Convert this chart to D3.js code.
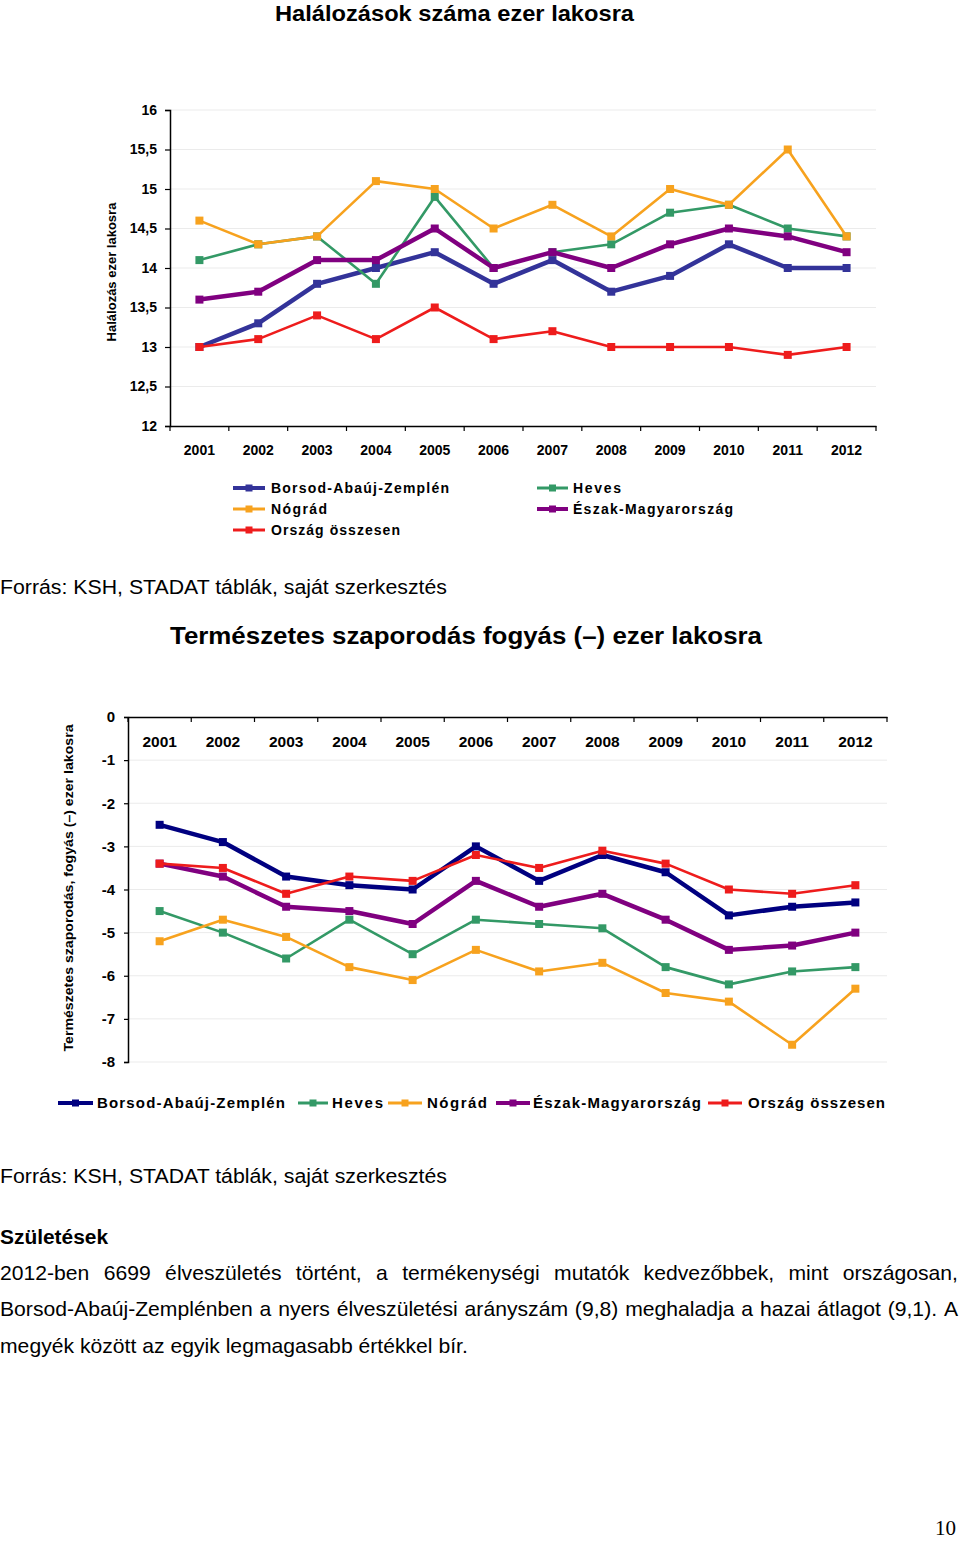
<!DOCTYPE html>
<html><head><meta charset="utf-8">
<script src="https://cdn.jsdelivr.net/npm/d3@7"></script>
<style>
body{margin:0;background:#fff}
svg{display:block}
text{font-family:'Liberation Sans',Arial,Helvetica,sans-serif;fill:#000}
</style>
</head><body>
<svg id="c" width="960" height="1542"></svg>
<script>
// ---------- DATA ----------
const years = ["2001","2002","2003","2004","2005","2006","2007","2008","2009","2010","2011","2012"];
const seriesNames = ["Borsod-Abaúj-Zemplén","Heves","Nógrád","Észak-Magyarország","Ország összesen"];

// Halálozások száma ezer lakosra
const deathBorsod = [13.0,13.3,13.8,14.0,14.2,13.8,14.1,13.7,13.9,14.3,14.0,14.0];
const deathHeves  = [14.1,14.3,14.4,13.8,14.9,14.0,14.2,14.3,14.7,14.8,14.5,14.4];
const deathNograd = [14.6,14.3,14.4,15.1,15.0,14.5,14.8,14.4,15.0,14.8,15.5,14.4];
const deathEszak  = [13.6,13.7,14.1,14.1,14.5,14.0,14.2,14.0,14.3,14.5,14.4,14.2];
const deathOrszag = [13.0,13.1,13.4,13.1,13.5,13.1,13.2,13.0,13.0,13.0,12.9,13.0];
const deathTicks = [12,12.5,13,13.5,14,14.5,15,15.5,16];

// Természetes szaporodás, fogyás (–) ezer lakosra
const natBorsod = [-2.5,-2.9,-3.7,-3.9,-4.0,-3.0,-3.8,-3.2,-3.6,-4.6,-4.4,-4.3];
const natHeves  = [-4.5,-5.0,-5.6,-4.7,-5.5,-4.7,-4.8,-4.9,-5.8,-6.2,-5.9,-5.8];
const natNograd = [-5.2,-4.7,-5.1,-5.8,-6.1,-5.4,-5.9,-5.7,-6.4,-6.6,-7.6,-6.3];
const natEszak  = [-3.4,-3.7,-4.4,-4.5,-4.8,-3.8,-4.4,-4.1,-4.7,-5.4,-5.3,-5.0];
const natOrszag = [-3.4,-3.5,-4.1,-3.7,-3.8,-3.2,-3.5,-3.1,-3.4,-4.0,-4.1,-3.9];
const natTicks = [0,-1,-2,-3,-4,-5,-6,-7,-8];

// ---------- STYLE ----------
const colTop = ["#333399","#339966","#F7A21E","#800080","#EE1C1C"];
const colBot = ["#000080","#339966","#F7A21E","#800080","#EE1C1C"];
const widths = [4.5,2.6,2.6,4.5,2.6];
const gridCol = "#ebebeb";

const svg = d3.select("#c");
const fmt = d => String(d).replace('.', ',');

function txt(g, s, x, y, opts={}) {
  const t = g.append("text").attr("x", x).attr("y", y).text(s)
    .style("font-size", (opts.size||14)+"px")
    .style("font-weight", opts.bold ? "bold" : "normal")
    .attr("text-anchor", opts.anchor||"start");
  if (opts.family) t.style("font-family", opts.family);
  if (opts.len) t.attr("textLength", opts.len).attr("lengthAdjust", opts.adjust||"spacingAndGlyphs");
  return t;
}

function drawSeries(g, x, y, vals, color, w) {
  const pts = years.map((yr,i)=>[x(yr)+x.bandwidth()/2, y(vals[i])]);
  g.append("path").attr("d", d3.line()(pts)).attr("fill","none")
    .attr("stroke", color).attr("stroke-width", w).attr("stroke-linejoin","round");
  g.selectAll(null).data(pts).enter().append("rect")
    .attr("x", d=>d[0]-4).attr("y", d=>d[1]-4).attr("width",8).attr("height",8)
    .attr("fill", color);
}

function legendItem(g, x1, x2, cy, color, w, label, tx, len, size) {
  g.append("line").attr("x1",x1).attr("x2",x2).attr("y1",cy).attr("y2",cy)
    .attr("stroke",color).attr("stroke-width",w);
  g.append("rect").attr("x",(x1+x2)/2-3.5).attr("y",cy-3.5).attr("width",7).attr("height",7).attr("fill",color);
  txt(g, label, tx, cy+5, {size:size, bold:true, len:len, adjust:"spacing"});
}

// ---------- TOP CHART ----------
txt(svg, "Halálozások száma ezer lakosra", 275, 21, {size:22, bold:true, len:359});

const xT = d3.scaleBand().domain(years).range([170, 876]);
const yT = d3.scaleLinear().domain([12,16]).range([426,110]);
const gT = svg.append("g");

gT.selectAll(null).data(deathTicks.slice(1)).enter().append("line")
  .attr("x1",170).attr("x2",876).attr("y1",d=>yT(d)).attr("y2",d=>yT(d))
  .attr("stroke",gridCol).attr("stroke-width",1);

const yAxT = gT.append("g").attr("transform","translate(170,0)")
  .call(d3.axisLeft(yT).tickValues(deathTicks).tickFormat(fmt).tickSize(5).tickPadding(8));
yAxT.select(".domain").attr("stroke","#000").attr("stroke-width",1.5);
yAxT.selectAll(".tick line").attr("stroke","#000").attr("stroke-width",1.2);
yAxT.selectAll("text").style("font-size","14px").style("font-weight","bold").attr("fill","#000");

const xAxT = gT.append("g").attr("transform","translate(0,426)")
  .call(d3.axisBottom(xT).tickSize(0).tickPadding(19));
xAxT.select(".domain").attr("stroke","#000").attr("stroke-width",1.5);
xAxT.selectAll("text").style("font-size","14px").style("font-weight","bold").attr("fill","#000");
gT.selectAll(null).data(years.map(yr=>xT(yr)).concat([xT.range()[1]])).enter().append("line")
  .attr("x1",d=>d).attr("x2",d=>d).attr("y1",426).attr("y2",431).attr("stroke","#000").attr("stroke-width",1.2);

txt(svg, "Halálozás ezer lakosra", 0, 0, {size:13, bold:true, anchor:"middle"})
  .attr("transform","translate(116,272) rotate(-90)");

const topSeries = [deathBorsod, deathHeves, deathNograd, deathEszak, deathOrszag];
topSeries.forEach((v,i)=>drawSeries(gT, xT, yT, v, colTop[i], widths[i]));

// top legend
const gLT = svg.append("g");
legendItem(gLT, 233, 265, 488, colTop[0], 4, seriesNames[0], 271, 178, 14);
legendItem(gLT, 233, 265, 509, colTop[2], 3, seriesNames[2], 271, 56, 14);
legendItem(gLT, 233, 265, 530, colTop[4], 3, seriesNames[4], 271, 129, 14);
legendItem(gLT, 537, 568, 488, colTop[1], 3, seriesNames[1], 573, 48, 14);
legendItem(gLT, 537, 568, 509, colTop[3], 4, seriesNames[3], 573, 160, 14);

txt(svg, "Forrás: KSH, STADAT táblák, saját szerkesztés", 0, 594, {size:20, len:447});

// ---------- BOTTOM CHART ----------
txt(svg, "Természetes szaporodás fogyás (–) ezer lakosra", 170, 644, {size:24, bold:true, len:592});

const xB = d3.scaleBand().domain(years).range([128, 887]);
const yB = d3.scaleLinear().domain([-8,0]).range([1062,717]);
const gB = svg.append("g");

gB.selectAll(null).data(natTicks.slice(1)).enter().append("line")
  .attr("x1",128).attr("x2",887).attr("y1",d=>yB(d)).attr("y2",d=>yB(d))
  .attr("stroke",gridCol).attr("stroke-width",1);

const yAxB = gB.append("g").attr("transform","translate(128,0)")
  .call(d3.axisLeft(yB).tickValues(natTicks).tickFormat(d=>String(d)).tickSize(4).tickPadding(9));
yAxB.select(".domain").attr("stroke","#000").attr("stroke-width",1.5);
yAxB.selectAll(".tick line").attr("stroke","#000").attr("stroke-width",1.2);
yAxB.selectAll("text").style("font-size","15px").style("font-weight","bold").attr("fill","#000");

const xAxB = gB.append("g").attr("transform","translate(0,717)")
  .call(d3.axisBottom(xB).tickSize(0).tickPadding(19));
xAxB.select(".domain").attr("stroke","#000").attr("stroke-width",1.5);
xAxB.selectAll("text").style("font-size","15.5px").style("font-weight","bold").attr("fill","#000");
gB.selectAll(null).data(years.map(yr=>xB(yr)).concat([xB.range()[1]])).enter().append("line")
  .attr("x1",d=>d).attr("x2",d=>d).attr("y1",717).attr("y2",722).attr("stroke","#000").attr("stroke-width",1.2);

txt(svg, "Természetes szaporodás, fogyás (–) ezer lakosra", 0, 0, {size:13, bold:true, len:327})
  .attr("transform","translate(73,888) rotate(-90)").attr("x",-163.5);

const botSeries = [natBorsod, natHeves, natNograd, natEszak, natOrszag];
botSeries.forEach((v,i)=>drawSeries(gB, xB, yB, v, colBot[i], widths[i]));

// bottom legend
const gLB = svg.append("g");
legendItem(gLB, 58, 93, 1103, colBot[0], 4, seriesNames[0], 97, 188, 15);
legendItem(gLB, 298, 328, 1103, colBot[1], 3, seriesNames[1], 332, 51, 15);
legendItem(gLB, 388, 422, 1103, colBot[2], 3, seriesNames[2], 427, 60, 15);
legendItem(gLB, 496, 530, 1103, colBot[3], 4, seriesNames[3], 533, 168, 15);
legendItem(gLB, 708, 742, 1103, colBot[4], 3, seriesNames[4], 748, 137, 15);

txt(svg, "Forrás: KSH, STADAT táblák, saját szerkesztés", 0, 1183, {size:20, len:447});

// ---------- PARAGRAPH ----------
txt(svg, "Születések", 0, 1244, {size:20, bold:true, len:108});

const paraLines = [
  "2012-ben 6699 élveszületés történt, a termékenységi mutatók kedvezőbbek, mint országosan,",
  "Borsod-Abaúj-Zemplénben a nyers élveszületési arányszám (9,8) meghaladja a hazai átlagot (9,1). A",
  "megyék között az egyik legmagasabb értékkel bír."
];
const paraY = [1280, 1316, 1353];
const probe = txt(svg, paraLines[2], 0, -100, {size:20});
const sc = 468 / probe.node().getComputedTextLength();
probe.remove();
paraLines.forEach((line, li) => {
  const g = svg.append("g").attr("transform", `translate(0,${paraY[li]}) scale(${sc},1)`);
  if (li === paraLines.length - 1) { txt(g, line, 0, 0, {size:20}); return; }
  const words = line.split(" ");
  const nodes = words.map(w => txt(g, w, 0, 0, {size:20}));
  const ws = nodes.map(n => n.node().getComputedTextLength());
  const total = d3.sum(ws);
  const gap = (958/sc - total) / (words.length - 1);
  let xx = 0;
  nodes.forEach((n,i) => { n.attr("x", xx); xx += ws[i] + gap; });
});

txt(svg, "10", 956, 1535, {size:21, anchor:"end", family:"'Liberation Serif','Times New Roman',serif"});
</script>
</body></html>
